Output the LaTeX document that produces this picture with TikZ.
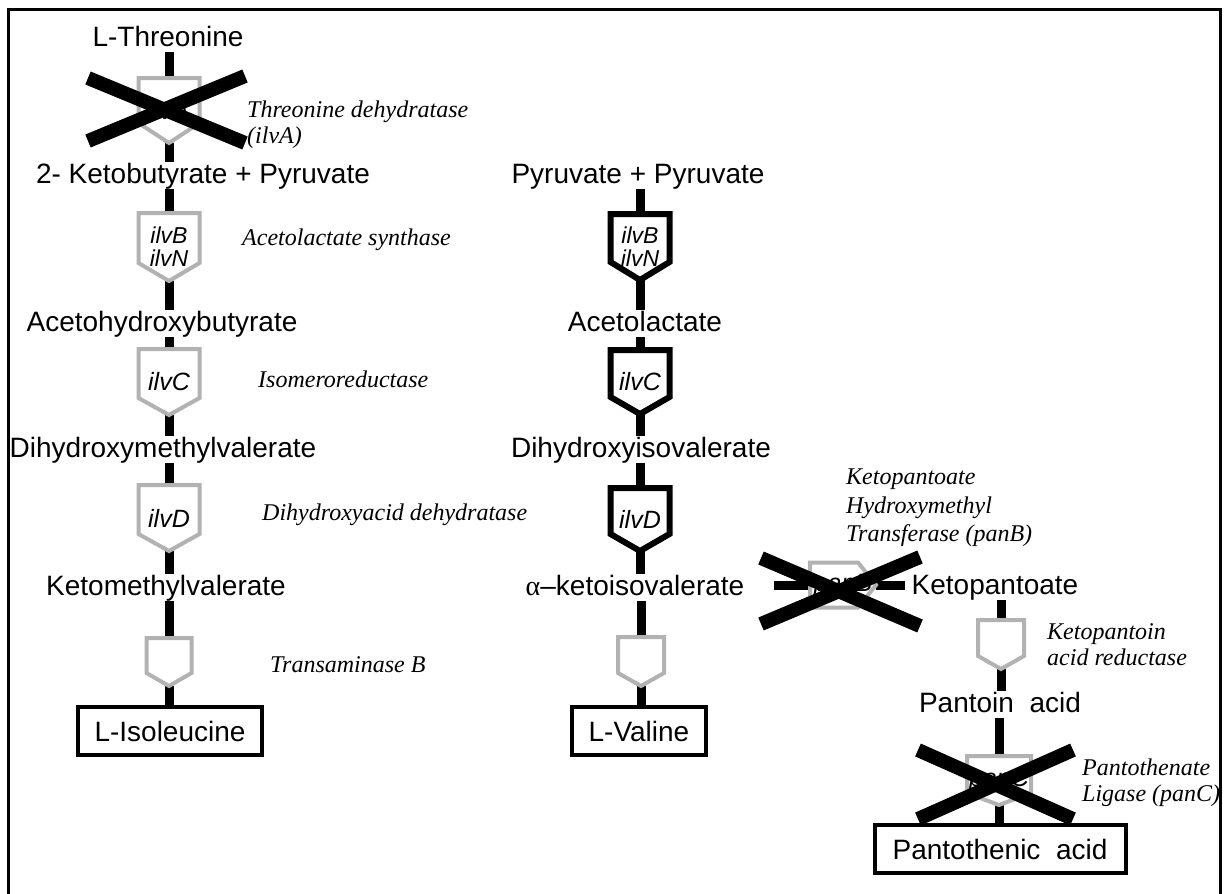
\documentclass[tikz,border=0pt]{standalone}
\usepackage{fontspec}
\setmainfont{Liberation Serif}
\setsansfont{Liberation Sans}
\usepackage{tikz}
\usetikzlibrary{positioning}
\usepackage{xcolor}
\definecolor{enzgrey}{RGB}{178,178,178}
\newcommand{\metfont}{\sffamily\fontsize{28}{32}\selectfont}
\newcommand{\genefont}{\sffamily\itshape\fontsize{25}{20}\selectfont}
\newcommand{\labfont}{\rmfamily\itshape\fontsize{24}{26}\selectfont}
\tikzstyle{met} = [font=\metfont, inner sep=0pt, text height=21pt, text depth=6pt, anchor=base]
\tikzstyle{prod} = [draw, line width=4pt, font=\metfont, inner sep=0pt, outer sep=0pt]
\tikzstyle{gene} = [font=\genefont, inner sep=0pt, outer sep=0pt, align=center, anchor=north]
\tikzstyle{twogene} = [gene, font=\sffamily\itshape\fontsize{23}{23}\selectfont]
\tikzstyle{lab} = [font=\labfont, inner sep=0pt, align=left]
\tikzstyle{bar} = [line width=9pt]
\tikzstyle{greyenz} = [draw=enzgrey, line width=4pt]
\tikzstyle{blackenz} = [draw=black, line width=6pt]
\tikzstyle{knockout} = [line width=14pt]
\newcommand{\enzdown}[3]{\draw[#1] (#2.north west) -- (#2.north east) -- ([yshift=#3]#2.south east) -- (#2.south) -- ([yshift=#3]#2.south west) -- cycle;}

\begin{document}
\begin{tikzpicture}[x=1pt, y=-1pt]
\useasboundingbox (0,0) rectangle (1224,894);
% Frame
\draw[line width=3pt] (8,900) -- (8,9) -- (1220,9) -- (1220,900);

% Isoleucine branch
\node[met] (thr) at (168,46) {L-Threonine};
\node[gene, minimum width=61pt, minimum height=65pt] (ilvA) at (169,78) {ilvA};
\node[met] (kbp) at (203,183) {2- Ketobutyrate + Pyruvate};
\node[twogene, minimum width=61pt, minimum height=68pt] (ilvBl) at (169,213) {ilvB\\ilvN};
\node[met] (ahb) at (162,331) {Acetohydroxybutyrate};
\node[gene, minimum width=61pt, minimum height=66pt] (ilvCl) at (169,349) {ilvC};
\node[met] (dhmv) at (163,457) {Dihydroxymethylvalerate};
\node[gene, minimum width=61pt, minimum height=66pt] (ilvDl) at (169,485) {ilvD};
\node[met] (kmv) at (166,595) {Ketomethylvalerate};
\node[gene, minimum width=45pt, minimum height=48pt] (tbl) at (169,638) {};
\node[prod, minimum width=184pt, minimum height=48pt] (ile) at (170,731) {L-Isoleucine};

\draw[bar] (thr.south -| ilvA.north) -- (ilvA.north);
\draw[bar] (ilvA.south) -- (kbp.north -| ilvA.south);
\draw[bar] (kbp.south -| ilvBl.north) -- (ilvBl.north);
\draw[bar] (ilvBl.south) -- (ahb.north -| ilvBl.south);
\draw[bar] (ahb.south -| ilvCl.north) -- (ilvCl.north);
\draw[bar] (ilvCl.south) -- (dhmv.north -| ilvCl.south);
\draw[bar] (dhmv.south -| ilvDl.north) -- (ilvDl.north);
\draw[bar] (ilvDl.south) -- (kmv.north -| ilvDl.south);
\draw[bar] (kmv.south -| tbl.north) -- (tbl.north);
\draw[bar] (tbl.south) -- (ile.north -| tbl.south);

\enzdown{greyenz}{ilvA}{20pt}
\enzdown{greyenz}{ilvBl}{18pt}
\enzdown{greyenz}{ilvCl}{17pt}
\enzdown{greyenz}{ilvDl}{17pt}
\enzdown{greyenz}{tbl}{13pt}

\node[lab, anchor=west] (thrlab) at (247,125) {Threonine dehydratase\\(ilvA)};
\node[lab, anchor=base west] (bnlab) at (242,245) {Acetolactate synthase};
\node[lab, anchor=base west] (clab) at (258,387) {Isomeroreductase};
\node[lab, anchor=base west] (dlab) at (262,520) {Dihydroxyacid dehydratase};
\node[lab, anchor=base west] (tblab) at (270,672) {Transaminase B};

% Valine branch
\node[met] (pp) at (638,183) {Pyruvate + Pyruvate};
\node[twogene, minimum width=59pt, minimum height=66pt] (ilvBm) at (640,214) {ilvB\\ilvN};
\node[met] (al) at (645,331) {Acetolactate};
\node[gene, minimum width=59pt, minimum height=64pt] (ilvCm) at (640,350) {ilvC};
\node[met] (dhiv) at (641,457) {Dihydroxyisovalerate};
\node[gene, minimum width=59pt, minimum height=63pt] (ilvDm) at (640,488) {ilvD};
\node[met] (kiv) at (635,595) {{\rmfamily α}–ketoisovalerate};
\node[gene, minimum width=46pt, minimum height=49pt] (tbm) at (641,637) {};
\node[prod, minimum width=134pt, minimum height=48pt] (val) at (639,731) {L-Valine};

\draw[bar] (pp.south -| ilvBm.north) -- (ilvBm.north);
\draw[bar] (ilvBm.south) -- (al.north -| ilvBm.south);
\draw[bar] (al.south -| ilvCm.north) -- (ilvCm.north);
\draw[bar] (ilvCm.south) -- (dhiv.north -| ilvCm.south);
\draw[bar] (dhiv.south -| ilvDm.north) -- (ilvDm.north);
\draw[bar] (ilvDm.south) -- (kiv.north -| ilvDm.south);
\draw[bar] (kiv.south -| tbm.north) -- (tbm.north);
\draw[bar] (tbm.south) -- (val.north -| tbm.south);

\enzdown{blackenz}{ilvBm}{18pt}
\enzdown{blackenz}{ilvCm}{17pt}
\enzdown{blackenz}{ilvDm}{17pt}
\enzdown{greyenz}{tbm}{13pt}

% Pantothenate branch
\node[gene, anchor=center, minimum width=66pt, minimum height=45pt] (panB) at (843,585) {panB};
\node[met] (kp) at (995,594) {Ketopantoate};
\node[gene, minimum width=46pt, minimum height=49pt] (kpr) at (1001,620) {};
\node[met] (pa) at (1000,712) {Pantoin\ \ acid};
\node[gene, minimum width=64pt, minimum height=49pt] (panC) at (999,756) {panC};
\node[prod, minimum width=251pt, minimum height=48pt] (pant) at (1000,849) {Pantothenic\ \ acid};

\draw[bar, shorten <=30pt] (kiv.east |- panB.west) -- (panB.west);
\draw[bar, shorten >=7pt] (panB.east) -- (kp.west |- panB.east);
\draw[bar] (kp.south -| kpr.north) -- (kpr.north);
\draw[bar] (kpr.south) -- (pa.north -| kpr.south);
\draw[bar] (pa.south -| panC.north) -- (panC.north);
\draw[bar] (panC.south) -- (pant.north -| panC.south);

\draw[greyenz] (panB.north west) -- ([xshift=-18pt]panB.north east) -- (panB.east) -- ([xshift=-18pt]panB.south east) -- (panB.south west) -- cycle;
\enzdown{greyenz}{kpr}{13pt}
\enzdown{greyenz}{panC}{12pt}

\node[lab, anchor=west, font=\rmfamily\itshape\fontsize{24}{28.5}\selectfont] (panBlab) at (846,508) {Ketopantoate\\Hydroxymethyl\\Transferase (panB)};
\node[lab, anchor=west] (kprlab) at (1047,645) {Ketopantoin\\acid reductase};
\node[lab, anchor=west] (panClab) at (1082,783) {Pantothenate\\Ligase (panC)};

% Knocked out steps
\draw[knockout] (88,78) -- (245,143);
\draw[knockout] (88,141) -- (245,76);
\draw[knockout] (761,558) -- (920,626);
\draw[knockout] (761,624) -- (920,557);
\draw[knockout] (918,750) -- (1073,819);
\draw[knockout] (918,819) -- (1073,750);
\end{tikzpicture}
\end{document}
